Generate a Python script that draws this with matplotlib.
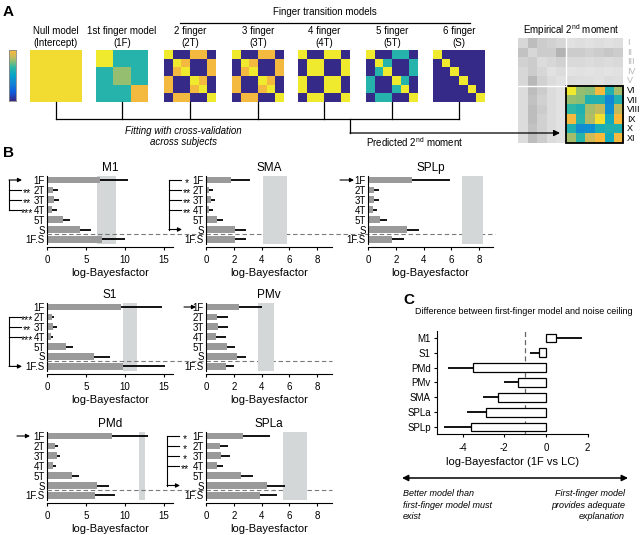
import numpy as np
import matplotlib
matplotlib.use('Agg')
import matplotlib.pyplot as plt
from matplotlib.colors import LinearSegmentedColormap
from matplotlib.patches import Rectangle
import matplotlib.transforms as mtransforms

plt.rcParams['font.family'] = ['Liberation Sans', 'DejaVu Sans']
plt.rcParams['mathtext.fontset'] = 'custom'
plt.rcParams['mathtext.rm'] = 'Liberation Sans'
plt.rcParams['mathtext.it'] = 'Liberation Sans:italic'
plt.rcParams['axes.linewidth'] = 0.8
plt.rcParams['axes.unicode_minus'] = False

# ---------------- Panel A data ----------------
Y, O, G, T, N = 1.0, 0.88, 0.72, 0.57, 0.0
model_line1 = ['Null model', '1st finger model', '2 finger', '3 finger', '4 finger', '5 finger', '6 finger']
model_line2 = ['(Intercept)', '(1F)', '(2T)', '(3T)', '(4T)', '(5T)', '(S)']
null_m = [[0.97] * 6, [0.97] * 6, [0.97] * 6, [0.97] * 6, [0.97] * 6, [0.97] * 6]
first_m = [[Y, Y, T, T, T, T], [Y, Y, T, T, T, T], [T, T, G, G, T, T],
           [T, T, G, G, T, T], [T, T, T, T, O, O], [T, T, T, T, O, O]]
t2_m = [[Y, N, N, O, O, N], [N, Y, O, N, N, O], [N, O, Y, N, N, O],
        [O, N, N, Y, O, N], [O, N, N, O, Y, N], [N, O, O, N, N, Y]]
t3_m = [[Y, N, N, O, O, N], [N, Y, O, N, N, O], [N, O, Y, N, N, O],
        [O, N, N, Y, O, N], [O, N, N, O, Y, N], [N, O, O, N, N, Y]]
t4_m = [[Y, N, N, Y, Y, N], [N, Y, Y, N, N, Y], [N, Y, Y, N, N, Y],
        [Y, N, N, Y, Y, N], [Y, N, N, Y, Y, N], [N, Y, Y, N, N, Y]]
t5_m = [[Y, N, N, T, T, N], [N, Y, T, N, N, T], [N, T, Y, N, N, T],
        [T, N, N, Y, T, N], [T, N, N, T, Y, N], [N, T, T, N, N, Y]]
s_m = [[Y, N, N, N, N, N], [N, Y, N, N, N, N], [N, N, Y, N, N, N],
       [N, N, N, Y, N, N], [N, N, N, N, Y, N], [N, N, N, N, N, Y]]
models_A = [null_m, first_m, t2_m, t3_m, t4_m, t5_m, s_m]

emp_gray = [
    [0.84, 0.74, 0.80, 0.82, 0.84, 0.88, 0.87, 0.88, 0.87, 0.88, 0.87],
    [0.76, 0.84, 0.80, 0.80, 0.70, 0.80, 0.80, 0.82, 0.80, 0.78, 0.80],
    [0.82, 0.80, 0.86, 0.84, 0.82, 0.85, 0.85, 0.86, 0.85, 0.86, 0.85],
    [0.84, 0.80, 0.84, 0.88, 0.86, 0.89, 0.88, 0.89, 0.88, 0.89, 0.88],
    [0.84, 0.72, 0.82, 0.86, 0.88, 0.86, 0.87, 0.87, 0.88, 0.86, 0.87],
    [0.86, 0.74, 0.80, 0.86, 0.88, 0.9, 0.9, 0.9, 0.9, 0.9, 0.9],
    [0.86, 0.76, 0.82, 0.86, 0.88, 0.9, 0.9, 0.9, 0.9, 0.9, 0.9],
    [0.86, 0.74, 0.80, 0.86, 0.88, 0.9, 0.9, 0.9, 0.9, 0.9, 0.9],
    [0.86, 0.74, 0.82, 0.86, 0.88, 0.9, 0.9, 0.9, 0.9, 0.9, 0.9],
    [0.86, 0.76, 0.82, 0.86, 0.88, 0.9, 0.9, 0.9, 0.9, 0.9, 0.9],
    [0.86, 0.74, 0.80, 0.86, 0.88, 0.9, 0.9, 0.9, 0.9, 0.9, 0.9]]
emp_color = [
    [1.00, 0.72, 0.70, 0.88, 0.55, 0.74],
    [0.72, 0.70, 0.55, 0.55, 0.32, 0.55],
    [0.60, 0.55, 0.74, 0.78, 0.36, 0.78],
    [0.88, 0.58, 0.76, 0.98, 0.50, 0.90],
    [0.55, 0.35, 0.36, 0.52, 0.55, 0.55],
    [0.74, 0.58, 0.80, 0.90, 0.50, 0.88]]
roman = ['I', 'II', 'III', 'IV', 'V', 'VI', 'VII', 'VIII', 'IX', 'X', 'XI']

# ---------------- Panel B data ----------------
b_models = ['1F', '2T', '3T', '4T', '5T', 'S', '1F.S']
m1_val = [6.8, 0.8, 0.94, 0.68, 2.1, 4.23, 7.0]
m1_err = [3.55, 0.65, 0.64, 0.56, 0.85, 1.37, 3.0]
m1_nc = [6.45, 8.85]
sma_val = [1.78, 0.24, 0.34, 0.24, 0.77, 2.09, 2.09]
sma_err = [1.42, 0.29, 0.31, 0.29, 0.43, 0.79, 0.79]
sma_nc = [4.08, 5.85]
splp_val = [3.14, 0.43, 0.43, 0.38, 0.86, 2.78, 1.75]
splp_err = [2.76, 0.38, 0.37, 0.29, 0.48, 0.91, 0.84]
splp_nc = [6.78, 8.25]
s1_val = [9.45, 0.6, 0.8, 0.47, 2.44, 6.0, 9.8]
s1_err = [5.25, 0.3, 0.45, 0.33, 0.86, 2.08, 5.3]
s1_nc = [9.8, 11.5]
pmv_val = [2.4, 0.81, 0.88, 0.72, 1.49, 2.25, 1.44]
pmv_err = [1.6, 0.75, 0.72, 0.72, 0.6, 0.6, 0.6]
pmv_nc = [3.76, 4.91]
pmd_val = [8.3, 1.03, 1.24, 0.8, 3.17, 6.4, 6.15]
pmd_err = [4.7, 0.42, 0.43, 0.35, 0.93, 1.55, 2.55]
pmd_nc = [11.8, 12.5]
spla_val = [2.65, 1.0, 1.1, 0.8, 2.5, 4.37, 3.9]
spla_err = [1.95, 0.56, 0.6, 0.4, 0.9, 1.33, 1.23]
spla_nc = [5.56, 7.24]

# ---------------- Panel C data ----------------
c_regions = ['M1', 'S1', 'PMd', 'PMv', 'SMA', 'SPLa', 'SPLp']
c_diff = [0.48, -0.32, -3.49, -1.33, -2.29, -2.90, -3.60]
c_err = [1.24, 0.45, 1.20, 0.67, 0.75, 0.91, 1.29]

# ---------------- figure ----------------
W, H = 640, 535
fig = plt.figure(figsize=(6.4, 5.35), dpi=100)


def rect(x0, y0, x1, y1):
    return [x0 / W, 1 - y1 / H, (x1 - x0) / W, (y1 - y0) / H]


parula = LinearSegmentedColormap.from_list('parula', [
    (0.0, '#352a87'), (0.15, '#0f5cdd'), (0.3, '#1481d6'), (0.45, '#06a4ca'),
    (0.6, '#2eb7a4'), (0.7, '#87bf77'), (0.8, '#d1bb59'), (0.9, '#fcb93a'),
    (1.0, '#f0ea2e')])

# colorbar
cax = fig.add_axes(rect(9, 50, 16, 101))
cax.imshow(np.linspace(0.9, 0.0, 60)[:, None], cmap=parula, vmin=0, vmax=1,
           aspect='auto')
cax.set_xticks([]); cax.set_yticks([])
for s in cax.spines.values():
    s.set_color('#888888'); s.set_linewidth(0.6)

model_left = [30, 96, 164, 232, 298, 366, 433]
MS = 52
centers = []
for i, mat in enumerate(models_A):
    x0 = model_left[i]
    ax = fig.add_axes(rect(x0, 50, x0 + MS, 50 + MS))
    ax.imshow(np.array(mat), cmap=parula, vmin=0, vmax=1, aspect='auto',
              interpolation='nearest')
    ax.axis('off')
    centers.append(x0 + MS / 2)

# empirical 2nd moment
eax = fig.add_axes(rect(518, 38, 623, 143))
eax.imshow(np.array(emp_gray), cmap='gray', vmin=0, vmax=1, aspect='auto',
           extent=(0, 11, 11, 0), interpolation='nearest')
eax.imshow(np.array(emp_color), cmap=parula, vmin=0, vmax=1, aspect='auto',
           extent=(5, 11, 11, 5), interpolation='nearest')
eax.set_xlim(0, 11); eax.set_ylim(11, 0)
eax.plot([5, 5], [0, 5], color='white', lw=1.0)
eax.plot([0, 5], [5, 5], color='white', lw=1.0)
eax.add_patch(Rectangle((5, 5), 6, 6, fill=False, ec='black', lw=1.3,
                        clip_on=False))
for i, r in enumerate(roman):
    eax.text(11.45, i + 0.5, r, fontsize=6.5, ha='left', va='center',
             color='#b5b5b5' if i < 5 else 'black', clip_on=False)
eax.axis('off')

# ---------------- Panel B ----------------
SP = 9.9
b_data = {
    'M1': (m1_val, m1_err, m1_nc, 47, 173, 180, 16.15, [0, 5, 10, 15]),
    'SMA': (sma_val, sma_err, sma_nc, 206, 332, 180, 9.07, [0, 2, 4, 6, 8]),
    'SPLp': (splp_val, splp_err, splp_nc, 368, 493, 180, 9.0, [0, 2, 4, 6, 8]),
    'S1': (s1_val, s1_err, s1_nc, 47, 173, 307, 16.15, [0, 5, 10, 15]),
    'PMv': (pmv_val, pmv_err, pmv_nc, 206, 332, 307, 9.07, [0, 2, 4, 6, 8]),
    'PMd': (pmd_val, pmd_err, pmd_nc, 47, 173, 436, 16.15, [0, 5, 10, 15]),
    'SPLa': (spla_val, spla_err, spla_nc, 206, 332, 436, 9.07, [0, 2, 4, 6, 8]),
}
# winner index, losers with stars, bracket x, arrow end x (pixels)
b_brackets = {
    'M1': (0, [(1, '**'), (2, '**'), (3, '***')], 9, 22),
    'SMA': (5, [(0, '*'), (1, '**'), (2, '**'), (3, '**')], 169, 182),
    'SPLp': (0, [], 340, 354),
    'S1': (6, [(1, '***'), (2, '**'), (3, '***')], 9, 22),
    'PMv': (0, [], 184, 196),
    'PMd': (0, [], 17, 30),
    'SPLa': (5, [(0, '*'), (1, '*'), (2, '*'), (3, '**')], 167, 180),
}
dash_end = {180: 495, 307: 332, 436: 332}

yy = np.arange(len(b_models))
for name, (vals, errs, nc, x0, x1, y1f, xmax, ticks) in b_data.items():
    top = y1f - 0.45 * SP
    ax = fig.add_axes(rect(x0, top, x1, top + 6.9 * SP))
    ax.patch.set_visible(False)
    vals = np.array(vals); errs = np.array(errs)
    ax.axvspan(nc[0], nc[1], color='#d3d7d8', zorder=0, lw=0)
    ax.barh(yy, vals, height=0.68, color='#9a9a9a', zorder=2)
    ax.hlines(yy, vals, vals + errs, color='black', lw=1.3, zorder=3)
    ax.set_ylim(6.45, -0.45)
    ax.set_xlim(0, xmax)
    ax.set_xticks(ticks)
    ax.set_yticks(yy)
    ax.set_yticklabels(b_models)
    ax.tick_params(axis='y', length=0, pad=1.5, labelsize=7)
    ax.tick_params(axis='x', length=2.5, width=0.8, pad=3, labelsize=7)
    for s in ['top', 'right']:
        ax.spines[s].set_visible(False)
    ax.spines['bottom'].set_position(('outward', 2.5))
    ax.set_xlabel('log-Bayesfactor', fontsize=8, labelpad=2)
    ax.set_title(name, fontsize=8.5, pad=3)
    trans = mtransforms.blended_transform_factory(fig.transFigure, ax.transData)
    # dashed separator (drawn from the left panel of each row)
    if x0 == 47:
        ax.plot([47 / W, dash_end[y1f] / W], [5.5, 5.5], transform=trans,
                color='#7a7a7a', lw=0.8, ls=(0, (4, 2.5)), clip_on=False,
                zorder=5)
    win, losers, bx, ax_end = b_brackets[name]
    if losers:
        ys = [win] + [l[0] for l in losers]
        ax.plot([bx / W, bx / W], [min(ys), max(ys)], transform=trans,
                color='black', lw=0.8, clip_on=False)
        for (li, st) in losers:
            ax.plot([bx / W, (ax_end - 1) / W], [li, li], transform=trans,
                    color='black', lw=0.8, clip_on=False)
            ax.text((ax_end + 4.5) / W, li + 0.3, st, transform=trans,
                    fontsize=7.5, ha='center', va='center', clip_on=False)
    ax.annotate('', xy=(ax_end / W, win), xytext=(bx / W, win),
                xycoords=trans, textcoords=trans, annotation_clip=False,
                arrowprops=dict(arrowstyle='-|>', lw=0.8, color='black',
                                mutation_scale=6, shrinkA=0, shrinkB=0))

# ---------------- Panel C ----------------
CS = 14.83
axc = fig.add_axes(rect(437, 338 - 0.45 * CS, 588, 338 + 6.45 * CS))
yc = np.arange(len(c_regions))
cd = np.array(c_diff); ce = np.array(c_err)
axc.barh(yc, cd, height=0.6, color='white', edgecolor='black', lw=0.9, zorder=2)
axc.hlines(yc, cd, cd + np.sign(cd) * ce, color='black', lw=1.3, zorder=3)
axc.axvline(-1, color='#666666', ls=(0, (4, 2.5)), lw=0.9, zorder=1)
axc.set_xlim(-5.23, 2.02)
axc.set_ylim(6.45, -0.45)
axc.set_xticks([-4, -2, 0, 2])
axc.set_yticks(yc)
axc.set_yticklabels(c_regions)
axc.tick_params(axis='both', length=2.5, width=0.8, labelsize=7)
axc.tick_params(axis='x', pad=4)
axc.tick_params(axis='y', pad=2)
for s in ['top', 'right']:
    axc.spines[s].set_visible(False)
axc.set_xlabel('log-Bayesfactor (1F vs LC)', fontsize=8, labelpad=3)

# ---------------- overlay (lines and text) ----------------
ov = fig.add_axes([0, 0, 1, 1])
ov.set_xlim(0, W); ov.set_ylim(H, 0)
ov.axis('off')
ov.set_zorder(10)

ov.text(3, 12, 'A', fontsize=11, fontweight='bold', va='center')
ov.text(3, 153, 'B', fontsize=11, fontweight='bold', va='center')
ov.text(403, 300, 'C', fontsize=11, fontweight='bold', va='center')

for i, c in enumerate(centers):
    ov.text(c, 31, model_line1[i], fontsize=7, ha='center', va='center')
    ov.text(c, 43, model_line2[i], fontsize=7, ha='center', va='center')
    ov.plot([c, c], [102, 119], color='black', lw=0.9)
ov.plot([centers[0], centers[-1]], [119, 119], color='black', lw=0.9)
ov.text(325, 12, 'Finger transition models', fontsize=7, ha='center', va='center')
ov.plot([180, 470], [23, 23], color='black', lw=0.9)
ov.plot([350, 350], [119, 133], color='black', lw=0.9)
ov.annotate('', xy=(560, 133), xytext=(350, 133),
            arrowprops=dict(arrowstyle='-|>', lw=0.9, color='black',
                            mutation_scale=9, shrinkA=0, shrinkB=0))
ov.text(183, 131, 'Fitting with cross-validation', fontsize=7,
        style='italic', ha='center', va='center')
ov.text(183, 142, 'across subjects', fontsize=7, style='italic',
        ha='center', va='center')
ov.text(415, 142, r'Predicted 2$^{\rm nd}$ moment', fontsize=7,
        ha='center', va='center')
ov.text(571, 30, r'Empirical 2$^{\rm nd}$ moment', fontsize=7,
        ha='center', va='center')

ov.text(524, 311, 'Difference between first-finger model and noise ceiling',
        fontsize=6.5, ha='center', va='center')
ov.annotate('', xy=(628, 478), xytext=(402, 478),
            arrowprops=dict(arrowstyle='<|-|>', lw=1.1, color='black',
                            mutation_scale=9, shrinkA=0, shrinkB=0))
ov.text(403, 505, 'Better model than\nfirst-finger model must\nexist',
        fontsize=6.5, style='italic', ha='left', va='center', linespacing=1.3)
ov.text(625, 505, 'First-finger model\nprovides adequate\nexplanation',
        fontsize=6.5, style='italic', ha='right', va='center', linespacing=1.3,
        multialignment='right')

fig.savefig('out.png', dpi=100)
